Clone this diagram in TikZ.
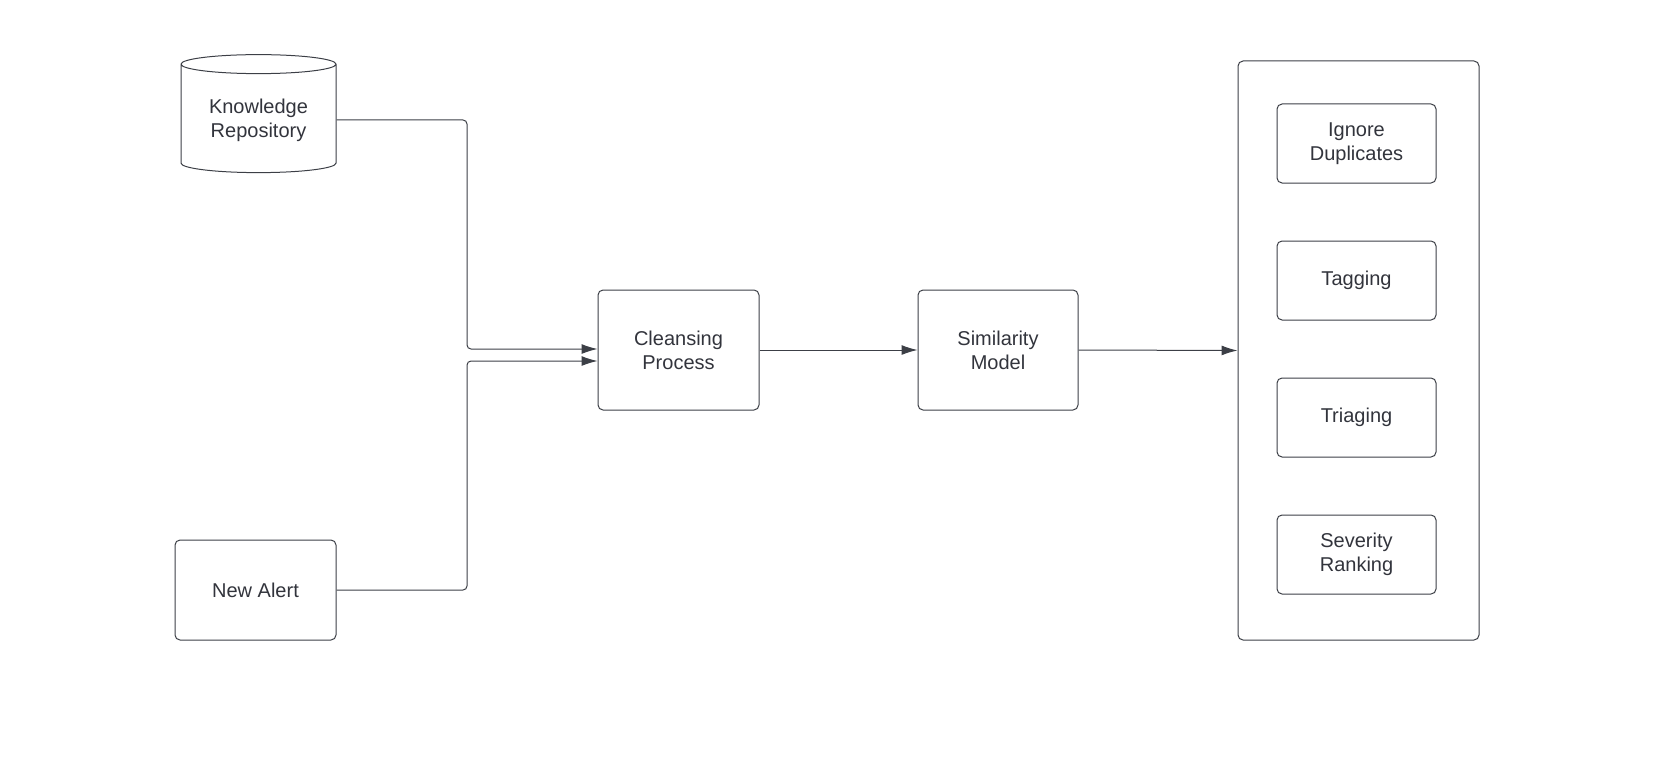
\documentclass[tikz,border=0pt]{standalone}
\usepackage{fontspec}
\setmainfont{Liberation Sans}
\usetikzlibrary{arrows.meta, shapes.geometric}

\begin{document}
\begin{tikzpicture}[x=1pt,y=1pt,yscale=-1,xscale=1,
    box/.style={draw={rgb,255:red,60;green,63;blue,70}, rounded corners=5pt, line width=1pt, align=center, font=\fontsize{20}{24}\selectfont, text={rgb,255:red,50;green,52;blue,60}},
    link/.style={draw={rgb,255:red,60;green,63;blue,70}, line width=1pt, rounded corners=4pt, -{Latex[length=16pt,width=10pt]}}]
    \useasboundingbox (0,0) rectangle (1677,765);

    % Sources
    \node [box, cylinder, shape border rotate=90, aspect=0.18, rounded corners=0pt, minimum width=155pt, minimum height=118pt] (repo) at (258.5,120) {Knowledge\\Repository};
    \node [box, minimum width=161pt, minimum height=100pt] (alert) at (255.5,590) {New Alert};

    % Processing
    \node [box, minimum width=161pt, minimum height=120pt] (clean) at (678.5,350) {Cleansing\\Process};
    \node [box, minimum width=160pt, minimum height=120pt] (model) at (998,350) {Similarity\\Model};

    % Outcomes
    \node [box, minimum width=241pt, minimum height=579pt] (out) at (1358.5,350.5) {};
    \node [box, minimum width=159pt, minimum height=79pt] (dup) at (1356.5,143.5) {Ignore\\Duplicates};
    \node [box, minimum width=159pt, minimum height=79pt] (tag) at (1356.5,280.5) {Tagging};
    \node [box, minimum width=159pt, minimum height=79pt] (tri) at (1356.5,417.5) {Triaging};
    \node [box, minimum width=159pt, minimum height=79pt] (sev) at (1356.5,554.5) {Severity\\Ranking};

    %Connectors
    \draw [link] (repo.east |- 0,120) -- (467,120) -- (467,349) -- (clean.west |- 0,349);
    \draw [link] (alert.east) -- (467,590) -- (467,361) -- (clean.west |- 0,361);
    \draw [link] (clean.east) -- (model.west);
    \draw [link] (model.east) -- (out.west);
\end{tikzpicture}
\end{document}
